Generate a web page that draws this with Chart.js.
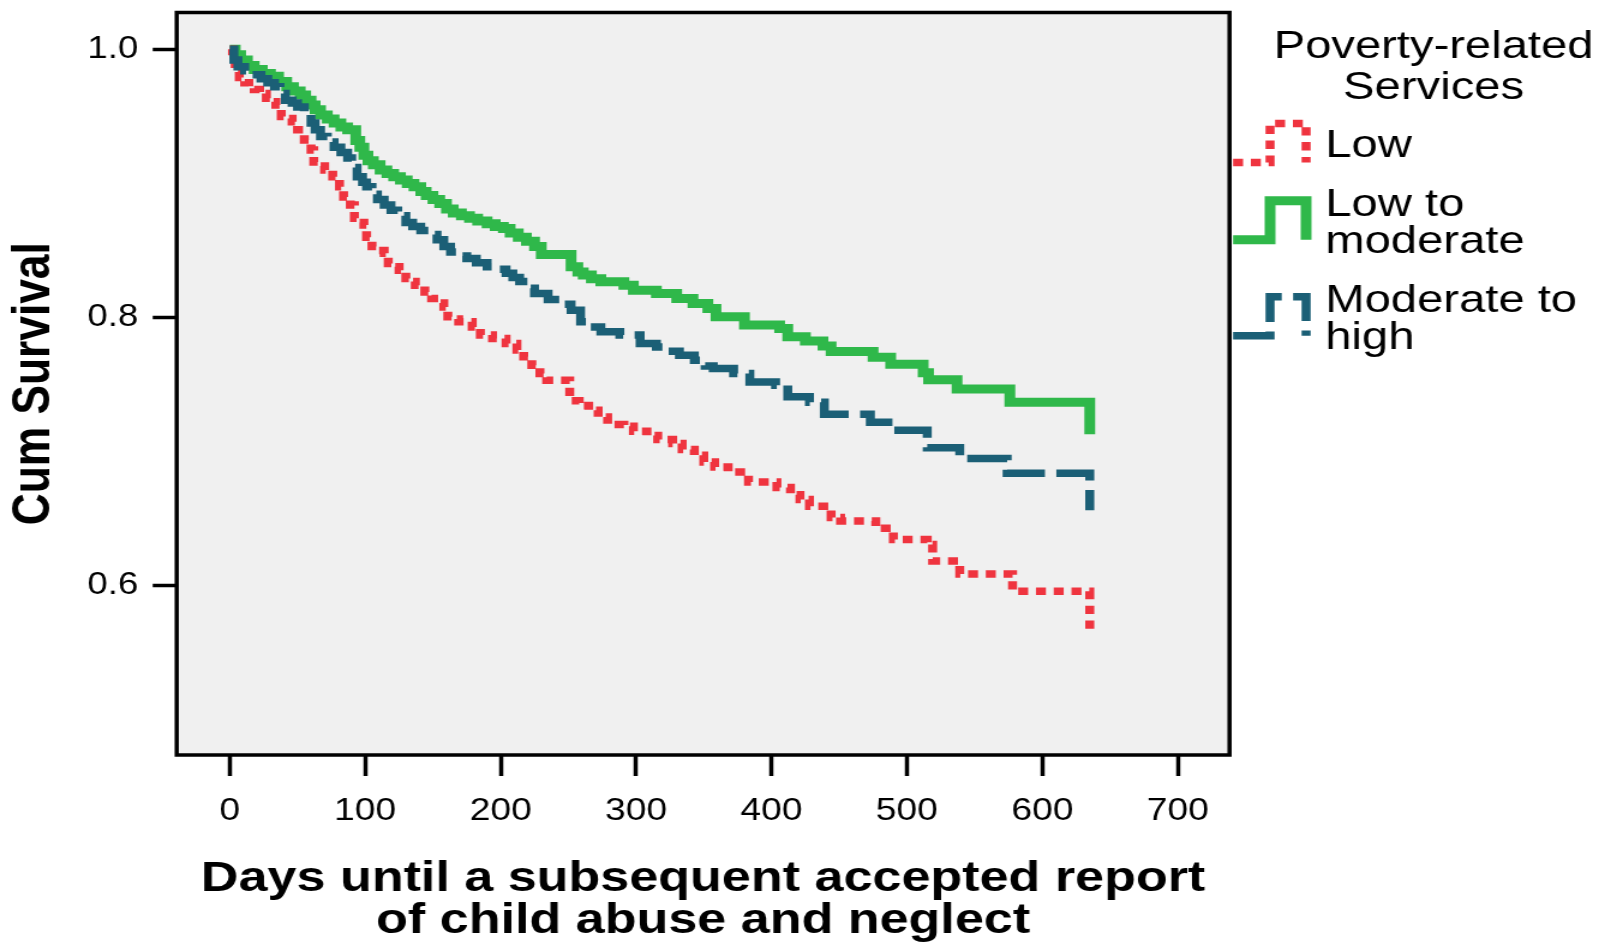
<!DOCTYPE html>
<html>
<head>
<meta charset="utf-8">
<title>Cum Survival by poverty-related services</title>
<script src="https://cdn.jsdelivr.net/npm/chart.js@4"></script>
<style>
  html, body { margin: 0; padding: 0; background: #fff; }
</style>
</head>
<body>
<!-- drawn narrow, then widened by CSS so glyphs and strokes get the wide look of the original SPSS export -->
<canvas id="km" width="1342" height="948" style="width:1611px;height:948px"></canvas>
<script>
// Kaplan-Meier steps: day of each drop and the survival after it
const lowDays = [0, 2, 4, 7, 11, 14, 18, 22, 27, 30, 34, 38, 42, 46, 50, 55, 60, 62, 66, 70,
  76, 81, 84, 89, 92, 95, 99, 101, 105, 109, 114, 117, 121, 125, 130, 133, 137, 144, 149, 154,
  158, 161, 165, 169, 179, 185, 194, 204, 212, 217, 223, 229, 234, 251, 258, 265, 272, 279, 291, 298,
  308, 316, 327, 334, 343, 350, 358, 368, 383, 404, 414, 421, 428, 444, 451, 477, 490, 515, 519, 539,
  578, 635];
const lowSurv = [1.000, 0.991, 0.983, 0.979, 0.975, 0.972, 0.970, 0.967, 0.9635, 0.961, 0.9585, 0.950, 0.9485, 0.946, 0.940, 0.9324, 0.925, 0.916, 0.913, 0.910,
  0.905, 0.8975, 0.890, 0.884, 0.874, 0.871, 0.869, 0.860, 0.853, 0.850, 0.848, 0.8404, 0.838, 0.8354, 0.8292, 0.827, 0.8242, 0.8192, 0.8143, 0.811,
  0.808, 0.8006, 0.799, 0.797, 0.793, 0.787, 0.7845, 0.7808, 0.7758, 0.7708, 0.7646, 0.7584, 0.7534, 0.738, 0.7345, 0.731, 0.726, 0.7204, 0.719, 0.7154,
  0.7122, 0.7092, 0.7062, 0.7017, 0.6975, 0.6925, 0.6887, 0.685, 0.6776, 0.6734, 0.668, 0.6644, 0.6594, 0.651, 0.6485, 0.643, 0.6346, 0.631, 0.6186, 0.609,
  0.596, 0.5638];

const lowModDays = [0, 4, 8, 13, 18, 24, 30, 36, 42, 47, 52, 56, 60, 63, 67, 72, 77, 82, 87, 93,
  96, 99, 102, 106, 111, 116, 121, 126, 131, 136, 141, 145, 150, 155, 160, 165, 171, 177, 183, 190,
  196, 202, 207, 213, 219, 225, 230, 252, 257, 261, 267, 274, 291, 298, 315, 330, 342, 353, 359, 380,
  406, 412, 425, 438, 444, 475, 488, 512, 516, 537, 576, 635];
const lowModSurv = [1.000, 0.996, 0.992, 0.988, 0.985, 0.982, 0.980, 0.976, 0.972, 0.969, 0.966, 0.962, 0.9585, 0.955, 0.951, 0.948, 0.945, 0.942, 0.940, 0.932,
  0.927, 0.921, 0.917, 0.914, 0.910, 0.9075, 0.905, 0.9025, 0.900, 0.8975, 0.894, 0.891, 0.888, 0.885, 0.881, 0.878, 0.876, 0.874, 0.872, 0.870,
  0.868, 0.8665, 0.863, 0.860, 0.857, 0.853, 0.847, 0.838, 0.834, 0.8317, 0.829, 0.8267, 0.8242, 0.8205, 0.818, 0.8143, 0.8106, 0.8069, 0.8006, 0.7946,
  0.792, 0.7857, 0.7826, 0.7789, 0.7748, 0.7704, 0.7652, 0.759, 0.7538, 0.7468, 0.737, 0.7131];

const modHighDays = [0, 3, 6, 11, 16, 23, 28, 33, 37, 41, 46, 50, 55, 60, 63, 67, 72, 77, 82, 87,
  90, 94, 98, 101, 105, 109, 114, 119, 124, 130, 135, 141, 147, 153, 158, 163, 169, 175, 182, 190,
  197, 204, 209, 214, 220, 225, 235, 244, 252, 259, 266, 274, 288, 303, 315, 324, 332, 343, 351, 357,
  372, 384, 403, 412, 428, 439, 473, 494, 515, 539, 574, 635];
const modHighSurv = [1.000, 0.992, 0.987, 0.984, 0.981, 0.978, 0.975, 0.972, 0.967, 0.962, 0.960, 0.957, 0.951, 0.945, 0.940, 0.935, 0.931, 0.927, 0.923, 0.919,
  0.912, 0.905, 0.901, 0.8975, 0.892, 0.888, 0.884, 0.880, 0.876, 0.871, 0.868, 0.865, 0.862, 0.858, 0.853, 0.849, 0.846, 0.844, 0.841, 0.838,
  0.836, 0.833, 0.830, 0.827, 0.822, 0.818, 0.8136, 0.810, 0.8056, 0.797, 0.793, 0.7894, 0.787, 0.7808, 0.7782, 0.775, 0.772, 0.7683, 0.764, 0.7621,
  0.7584, 0.7521, 0.7497, 0.741, 0.737, 0.728, 0.722, 0.716, 0.703, 0.695, 0.684, 0.6565];

const groupLabels = ['Low', 'Low to moderate', 'Moderate to high'];
const keyLines = [['Low'], ['Low to', 'moderate'], ['Moderate to', 'high']];
const keyTitle = ['Poverty-related', 'Services'];
const xTicks = [0, 100, 200, 300, 400, 500, 600, 700];
const yTicks = [0.6, 0.8, 1.0];

const FONT = "'Liberation Sans', Arial, Helvetica, sans-serif";
Chart.defaults.font.family = FONT;
Chart.defaults.color = '#000';

function steps(days, surv) {
  return days.map((d, i) => ({ x: d, y: surv[i] }));
}

// grey plot panel, black frame and the step-shaped key on the right
const panelAndKey = {
  id: 'panelAndKey',
  beforeDraw(chart) {
    const { ctx, chartArea: a } = chart;
    ctx.save();
    ctx.fillStyle = '#f0f0f0';
    ctx.fillRect(a.left, a.top, a.right - a.left, a.bottom - a.top);
    ctx.restore();
  },
  afterDraw(chart) {
    const { ctx, chartArea: a } = chart;
    ctx.save();

    // key
    const x0 = a.right + 3, x1 = a.right + 33.8, x2 = a.right + 63.8;
    const tx = a.right + 79.8;
    ctx.fillStyle = '#000';
    ctx.font = '39.3px ' + FONT;
    ctx.textAlign = 'center';
    ctx.textBaseline = 'alphabetic';
    ctx.fillText(keyTitle[0], a.right + 170, 58);
    ctx.fillText(keyTitle[1], a.right + 170, 98.5);

    ctx.textAlign = 'left';
    let y = 157;
    keyLines.forEach((lines, i) => {
      const ds = chart.data.datasets.find(d => d.label === groupLabels[i]);
      lines.forEach((ln, j) => ctx.fillText(ln, tx, y + j * 37.5));
      const mid = ((y - 28) + (y + (lines.length - 1) * 37.5)) / 2;
      const yb = mid + 19.5, yt = mid - 19.5;
      ctx.save();
      ctx.strokeStyle = ds.borderColor;
      ctx.lineWidth = ds.borderWidth;
      ctx.setLineDash(ds.borderDash || []);
      ctx.lineJoin = 'miter';
      ctx.lineCap = 'butt';
      ctx.beginPath();
      ctx.moveTo(x0, yb);
      ctx.lineTo(x1, yb);
      ctx.lineTo(x1, yt);
      ctx.lineTo(x2, yt);
      ctx.lineTo(x2, yb);
      ctx.stroke();
      ctx.restore();
      y += lines.length * 37.5 + 21;
    });

    // frame
    ctx.strokeStyle = '#000';
    ctx.lineWidth = 3.5;
    ctx.setLineDash([]);
    ctx.strokeRect(a.left, a.top, a.right - a.left, a.bottom - a.top);
    ctx.restore();
  }
};

new Chart(document.getElementById('km'), {
  type: 'line',
  data: {
    datasets: [
      {
        label: groupLabels[0],
        data: steps(lowDays, lowSurv),
        borderColor: '#ef343f',
        borderWidth: 7.5,
        borderDash: [8.3, 6.5],
        stepped: 'before',
        pointRadius: 0,
        fill: false,
        order: 1
      },
      {
        label: groupLabels[1],
        data: steps(lowModDays, lowModSurv),
        borderColor: '#2fb84a',
        borderWidth: 9,
        stepped: 'before',
        pointRadius: 0,
        fill: false,
        order: 2
      },
      {
        label: groupLabels[2],
        data: steps(modHighDays, modHighSurv),
        borderColor: '#1b5f76',
        borderWidth: 7.5,
        borderDash: [35, 9.5],
        stepped: 'before',
        pointRadius: 0,
        fill: false,
        order: 0
      }
    ]
  },
  options: {
    responsive: false,
    devicePixelRatio: 1,
    animation: false,
    events: [],
    layout: { padding: { top: 12.5, right: 317.8, left: 0, bottom: 0 } },
    plugins: {
      legend: { display: false },
      tooltip: { enabled: false }
    },
    scales: {
      x: {
        type: 'linear',
        min: -39.2,
        max: 738.2,
        afterBuildTicks: s => { s.ticks = xTicks.map(v => ({ value: v })); },
        afterFit: s => { s.height = 193; s.paddingLeft = 0; s.paddingRight = 0; },
        border: { display: false },
        grid: { drawOnChartArea: false, tickLength: 21, tickWidth: 3.5, tickColor: '#000' },
        ticks: { font: { size: 31 }, padding: 16.4, maxRotation: 0, autoSkip: false, callback: v => String(v) },
        title: {
          display: true,
          text: ['Days until a subsequent accepted report', 'of child abuse and neglect'],
          font: { size: 43.4, weight: 'bold', lineHeight: 0.977 },
          padding: { top: 0, bottom: 5.8 }
        }
      },
      y: {
        min: 0.47404,
        max: 1.02743,
        afterBuildTicks: s => { s.ticks = yTicks.map(v => ({ value: v })); },
        afterFit: s => { s.width = 147.2; s.paddingTop = 0; s.paddingBottom = 0; },
        border: { display: false },
        grid: { drawOnChartArea: false, tickLength: 20, tickWidth: 3.5, tickColor: '#000' },
        ticks: { font: { size: 30.5 }, padding: 12, callback: v => v.toFixed(1) },
        title: {
          display: true,
          text: 'Cum Survival',
          font: { size: 44.3, weight: 'bold' },
          padding: { top: 2.2, bottom: 0 }
        }
      }
    }
  },
  plugins: [panelAndKey]
});
</script>
</body>
</html>
